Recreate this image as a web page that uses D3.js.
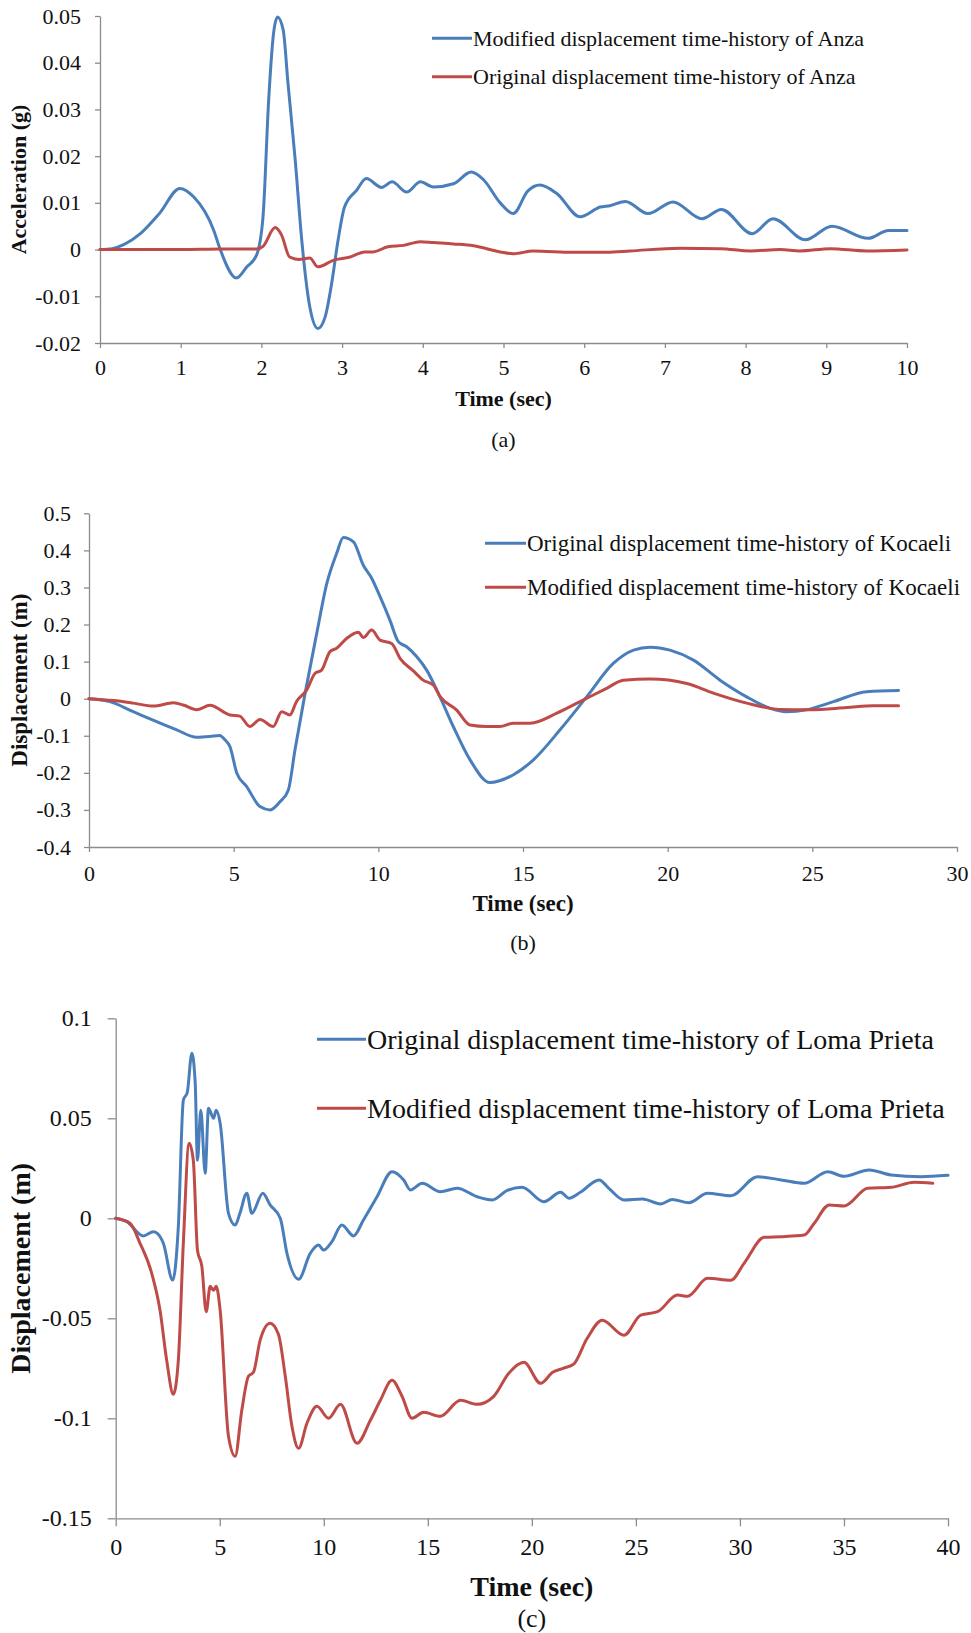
<!DOCTYPE html>
<html><head><meta charset="utf-8">
<script src="https://cdn.jsdelivr.net/npm/d3@7"></script>
<style>body{margin:0;background:#fff}</style>
</head><body>
<svg id="chart" width="971" height="1633" xmlns="http://www.w3.org/2000/svg"></svg>
<script>
// ---------- Panel (a): Anza ----------
const anzaXTicks = [0,1,2,3,4,5,6,7,8,9,10];
const anzaYTicks = [-0.02,-0.01,0,0.01,0.02,0.03,0.04,0.05];
const anzaYLabels = ["-0.02","-0.01","0","0.01","0.02","0.03","0.04","0.05"];
const anzaModifiedT = [0,0.15,0.3,0.5,0.74,0.99,1.16,1.41,1.49,1.69,1.82,1.94,2.02,2.09,2.15,2.20,2.27,2.33,2.42,2.50,2.60,2.70,2.79,2.87,2.95,3.03,3.18,3.30,3.49,3.62,3.80,3.97,4.13,4.38,4.60,4.75,4.96,5.12,5.30,5.45,5.66,5.95,6.20,6.32,6.51,6.79,7.10,7.46,7.70,8.08,8.34,8.74,9.07,9.52,9.77,10.0];
const anzaModifiedV = [0,0.0002,0.0011,0.0034,0.0078,0.0131,0.0113,0.0041,0.0,-0.0061,-0.0037,-0.0012,0.007,0.032,0.0462,0.0498,0.047,0.0355,0.019,0.002,-0.0123,-0.0169,-0.0144,-0.0073,0.002,0.0091,0.0127,0.0152,0.0133,0.0145,0.0123,0.0145,0.0134,0.0141,0.0166,0.0150,0.0100,0.0077,0.0125,0.0138,0.012,0.007,0.0091,0.0094,0.0103,0.0077,0.0102,0.0066,0.0086,0.0034,0.0066,0.0021,0.005,0.0024,0.0041,0.0041];
const anzaOriginalT = [0,0.5,1.0,1.5,1.94,2.02,2.17,2.25,2.35,2.46,2.60,2.70,2.89,3.10,3.28,3.38,3.57,3.76,3.97,4.13,4.38,4.63,4.96,5.12,5.37,5.87,6.28,6.57,7.19,7.69,8.06,8.43,8.67,9.05,9.50,10.0];
const anzaOriginalV = [0,0,0,0.0001,0.0001,0.0007,0.0047,0.0031,-0.0016,-0.0021,-0.0018,-0.0037,-0.0023,-0.0016,-0.0005,-0.0005,0.0006,0.0009,0.0017,0.0015,0.0012,0.0008,-0.0005,-0.0009,-0.0003,-0.0006,-0.0006,-0.0003,0.0003,0.0002,-0.0003,0,-0.0003,0.0002,-0.0003,-0.0001];

// ---------- Panel (b): Kocaeli ----------
const kocXTicks = [0,5,10,15,20,25,30];
const kocYTicks = [-0.4,-0.3,-0.2,-0.1,0,0.1,0.2,0.3,0.4,0.5];
const kocYLabels = ["-0.4","-0.3","-0.2","-0.1","0","0.1","0.2","0.3","0.4","0.5"];
const kocOriginalT = [0,0.72,1.53,2.34,3.03,3.72,4.17,4.52,4.70,4.87,5.11,5.45,5.91,6.26,6.60,6.89,7.12,7.47,7.87,8.22,8.56,8.79,9.14,9.48,9.77,10.06,10.40,10.69,10.98,11.33,11.67,12.13,12.59,13.17,13.86,14.67,15.36,16.28,17.2,18.12,18.82,19.4,20.08,20.89,21.81,22.73,23.54,24.1,24.8,25.73,26.88,27.98];
const kocOriginalV = [0,-0.008,-0.035,-0.062,-0.084,-0.104,-0.102,-0.099,-0.111,-0.129,-0.201,-0.237,-0.291,-0.300,-0.278,-0.246,-0.138,0.015,0.176,0.311,0.392,0.435,0.423,0.360,0.325,0.275,0.212,0.154,0.140,0.113,0.077,0.005,-0.075,-0.165,-0.226,-0.205,-0.165,-0.084,0.005,0.095,0.131,0.139,0.131,0.104,0.050,0.005,-0.026,-0.035,-0.030,-0.008,0.019,0.022];
const kocModifiedT = [0,0.84,1.53,2.22,2.92,3.26,3.72,4.18,4.87,5.21,5.56,5.91,6.37,6.66,6.94,7.17,7.52,7.81,8.04,8.33,8.56,8.91,9.31,9.48,9.77,10.06,10.46,10.75,11.21,11.55,11.9,12.13,12.7,13.17,13.75,14.2,14.67,15.25,16.17,16.97,17.89,18.47,19.4,20.66,21.58,22.73,23.88,24.92,26.19,27.11,27.98];
const kocModifiedV = [0,-0.005,-0.012,-0.020,-0.011,-0.017,-0.030,-0.018,-0.044,-0.047,-0.075,-0.056,-0.075,-0.035,-0.044,-0.008,0.023,0.068,0.077,0.127,0.136,0.163,0.179,0.165,0.185,0.158,0.149,0.109,0.075,0.050,0.037,0.006,-0.030,-0.071,-0.075,-0.075,-0.066,-0.066,-0.039,-0.008,0.028,0.050,0.053,0.041,0.015,-0.012,-0.029,-0.030,-0.024,-0.019,-0.019];

// ---------- Panel (c): Loma Prieta ----------
const lomaXTicks = [0,5,10,15,20,25,30,35,40];
const lomaYTicks = [-0.15,-0.1,-0.05,0,0.05,0.1];
const lomaYLabels = ["-0.15","-0.1","-0.05","0","0.05","0.1"];
const lomaOriginalT = [0,0.53,1.33,1.81,2.0,2.29,2.74,3.01,3.25,3.44,3.66,3.82,3.93,4.09,4.30,4.46,4.70,4.83,5.02,5.42,5.74,5.97,6.3,6.54,7.07,7.42,7.91,8.23,8.79,9.35,9.75,9.99,10.39,10.87,11.43,11.9,12.56,13.28,13.85,14.16,14.73,15.6,16.41,17.37,18.1,18.82,19.53,20.58,21.38,21.79,22.33,23.23,23.7,24.43,25.31,26.19,26.75,27.55,28.44,29.56,30.85,31.97,33.09,34.22,34.99,36.22,37.26,38.7,40.0];
const lomaOriginalV = [0,-0.0017,-0.0088,-0.0067,-0.0075,-0.0125,-0.0309,-0.0042,0.059,0.063,0.0825,0.068,0.029,0.054,0.0225,0.055,0.050,0.054,0.0475,0.0025,-0.0034,0.0025,0.0125,0.0025,0.0125,0.0067,0,-0.0175,-0.0305,-0.0175,-0.0134,-0.0159,-0.0117,-0.0034,-0.0088,-0.001,0.0108,0.0233,0.019,0.0142,0.0175,0.0133,0.015,0.0108,0.0092,0.014,0.0155,0.0083,0.013,0.010,0.013,0.0192,0.015,0.0092,0.0097,0.0072,0.0094,0.0078,0.0125,0.0113,0.0208,0.0192,0.0175,0.0233,0.021,0.0242,0.0217,0.0208,0.0215];
const lomaModifiedT = [0,0.69,1.17,1.73,2.13,2.45,2.77,3.01,3.25,3.53,3.73,3.93,4.14,4.35,4.54,4.7,4.83,5.02,5.42,5.74,6.06,6.38,6.62,6.94,7.42,7.82,8.15,8.47,8.79,9.19,9.67,10.23,10.8,11.6,12.24,12.72,13.28,13.76,14.24,14.8,15.6,16.57,17.37,18.17,18.89,19.62,20.42,21.0,21.5,22.0,22.66,23.38,24.43,25.23,26.04,27.0,27.48,28.44,29.56,30.2,31.17,31.97,33.09,33.57,34.29,35.02,36.14,37.26,38.38,39.27];
const lomaModifiedV = [0,-0.0025,-0.0125,-0.0275,-0.046,-0.071,-0.088,-0.071,-0.0125,0.0375,0.029,-0.016,-0.024,-0.0467,-0.034,-0.036,-0.034,-0.046,-0.109,-0.119,-0.096,-0.079,-0.077,-0.061,-0.0525,-0.058,-0.079,-0.104,-0.115,-0.1025,-0.094,-0.100,-0.093,-0.1125,-0.101,-0.091,-0.081,-0.089,-0.100,-0.097,-0.099,-0.091,-0.093,-0.089,-0.0775,-0.072,-0.0825,-0.077,-0.075,-0.073,-0.060,-0.051,-0.0585,-0.0484,-0.0467,-0.0384,-0.039,-0.030,-0.031,-0.0225,-0.0095,-0.0092,-0.0084,-0.0025,0.0067,0.0062,0.015,0.0155,0.018,0.0175];

const BLUE = "#4a7ebb", RED = "#be4b48", AXIS = "#8c8c8c";
const FONT = "'Liberation Serif','Times New Roman',Times,serif";
const svg = d3.select("#chart");
svg.append("rect").attr("width",971).attr("height",1633).attr("fill","#fff");

function zip(t,v){ return t.map((d,i)=>[d,v[i]]); }

function panel(c){
  const x = d3.scaleLinear().domain(c.xDomain).range([c.left,c.right]);
  const y = d3.scaleLinear().domain(c.yDomain).range([c.bottom,c.top]);
  const g = svg.append("g");
  const ya = g.append("g").attr("transform",`translate(${c.left},0)`)
    .call(d3.axisLeft(y).tickValues(c.yTicks).tickFormat((d,i)=>c.yLabels[i])
      .tickSizeInner(c.tick).tickSizeOuter(0).tickPadding(c.yPad));
  const xa = g.append("g").attr("transform",`translate(0,${c.bottom})`)
    .call(d3.axisBottom(x).tickValues(c.xTicks).tickFormat(d3.format("d"))
      .tickSizeInner(c.tick).tickSizeOuter(0).tickPadding(c.xPad));
  [ya,xa].forEach(a=>{
    a.attr("font-family",FONT).attr("font-size",c.tickFont);
    a.select(".domain").attr("stroke",AXIS).attr("stroke-width",1.3);
    a.selectAll(".tick line").attr("stroke",AXIS).attr("stroke-width",1.3);
    a.selectAll(".tick text").attr("fill","#111").style("font-family",FONT).style("font-size",c.tickFont+"px");
  });
  const line = d3.line().x(d=>x(d[0])).y(d=>y(d[1])).curve(d3.curveMonotoneX);
  c.series.forEach(s=>{
    g.append("path").datum(s.data).attr("fill","none").attr("stroke",s.color)
      .attr("stroke-width",3).attr("stroke-linejoin","round").attr("stroke-linecap","round").attr("d",line);
  });
  c.series.forEach((s,i)=>{
    const ly = c.legendY[i];
    g.append("line").attr("x1",c.legendX[0]).attr("x2",c.legendX[1]).attr("y1",ly).attr("y2",ly)
      .attr("stroke",s.color).attr("stroke-width",3);
    g.append("text").attr("x",c.legendX[1]+1).attr("y",ly).attr("dy","0.33em")
      .style("font-family",FONT).style("font-size",c.legendFont+"px").attr("fill","#111").text(s.name);
  });
  const cx = (c.left+c.right)/2;
  g.append("text").attr("x",cx).attr("y",c.xTitleY).attr("text-anchor","middle")
    .style("font-family",FONT).style("font-weight","bold").style("font-size",c.titleFont+"px").attr("fill","#111").text(c.xTitle);
  g.append("text").attr("transform",`translate(${c.yTitleX},${(c.top+c.bottom)/2}) rotate(-90)`).attr("text-anchor","middle")
    .style("font-family",FONT).style("font-weight","bold").style("font-size",c.titleFont+"px").attr("fill","#111").text(c.yTitle);
  g.append("text").attr("x",cx).attr("y",c.capY).attr("text-anchor","middle")
    .style("font-family",FONT).style("font-size",c.capFont+"px").attr("fill","#111").text(c.caption);
}

panel({left:100,right:907,top:16,bottom:343,xDomain:[0,10],yDomain:[-0.02,0.05],
  xTicks:anzaXTicks,yTicks:anzaYTicks,yLabels:anzaYLabels,tick:5,yPad:14,xPad:11,tickFont:22,
  series:[{name:"Modified displacement time-history of Anza",color:BLUE,data:zip(anzaModifiedT,anzaModifiedV)},
          {name:"Original displacement time-history of Anza",color:RED,data:zip(anzaOriginalT,anzaOriginalV)}],
  legendX:[432,472],legendY:[38.3,76.7],legendFont:22,
  xTitle:"Time (sec)",xTitleY:406,yTitle:"Acceleration (g)",yTitleX:26,titleFont:22,
  caption:"(a)",capY:447,capFont:22});

panel({left:89,right:957,top:513.3,bottom:847,xDomain:[0,30],yDomain:[-0.4,0.5],
  xTicks:kocXTicks,yTicks:kocYTicks,yLabels:kocYLabels,tick:5,yPad:13,xPad:13,tickFont:22,
  series:[{name:"Original displacement time-history of Kocaeli",color:BLUE,data:zip(kocOriginalT,kocOriginalV)},
          {name:"Modified displacement time-history of Kocaeli",color:RED,data:zip(kocModifiedT,kocModifiedV)}],
  legendX:[485,526],legendY:[543.3,587.3],legendFont:23,
  xTitle:"Time (sec)",xTitleY:911,yTitle:"Displacement (m)",yTitleX:27,titleFont:23,
  caption:"(b)",capY:950,capFont:22});

panel({left:115.7,right:948,top:1018.3,bottom:1518.3,xDomain:[0,40],yDomain:[-0.15,0.1],
  xTicks:lomaXTicks,yTicks:lomaYTicks,yLabels:lomaYLabels,tick:8,yPad:16,xPad:12,tickFont:24,
  series:[{name:"Original displacement time-history of Loma Prieta",color:BLUE,data:zip(lomaOriginalT,lomaOriginalV)},
          {name:"Modified displacement time-history of Loma Prieta",color:RED,data:zip(lomaModifiedT,lomaModifiedV)}],
  legendX:[317,366],legendY:[1039.3,1108.3],legendFont:28,
  xTitle:"Time (sec)",xTitleY:1596,yTitle:"Displacement (m)",yTitleX:30,titleFont:28,
  caption:"(c)",capY:1627,capFont:26});
</script>
</body></html>
